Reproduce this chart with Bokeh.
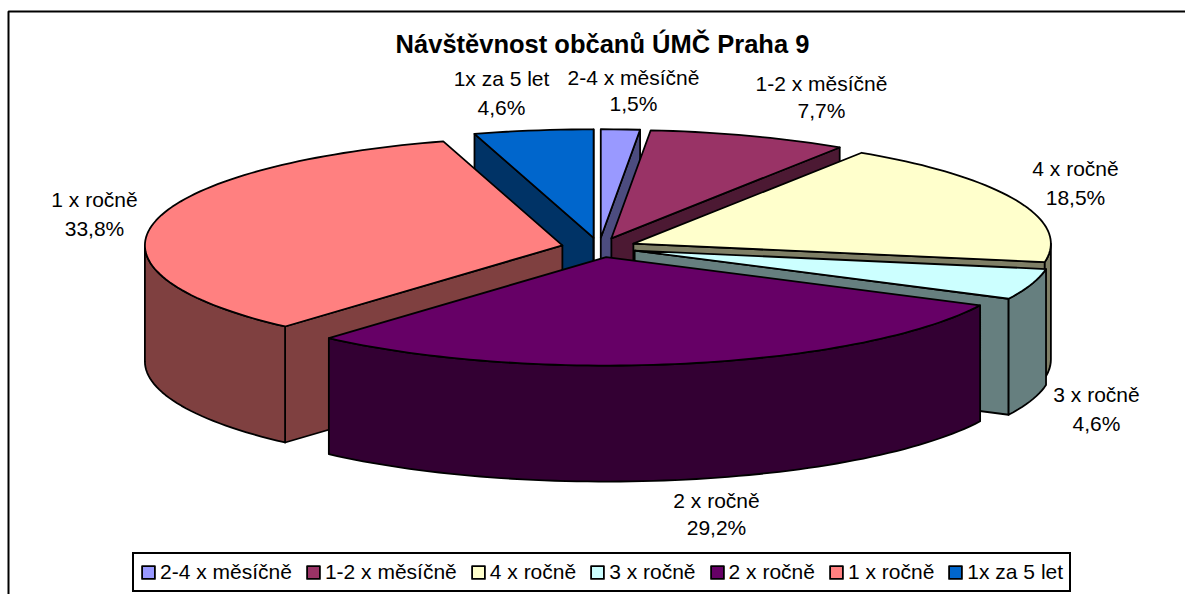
from math import sin, cos, radians
from bokeh.plotting import figure
from bokeh.models import Range1d, Legend, LegendItem, ColumnDataSource
from bokeh.core.properties import value
from bokeh.embed import file_html
from bokeh.resources import INLINE

title_text = "Návštěvnost občanů ÚMČ Praha 9"
categories = ["2-4 x měsíčně", "1-2 x měsíčně", "4 x ročně", "3 x ročně", "2 x ročně", "1 x ročně", "1x za 5 let"]
shares = [1.5, 7.7, 18.5, 4.6, 29.2, 33.8, 4.6]
top_colors = ["#9999FF", "#993366", "#FFFFCC", "#CCFFFF", "#660066", "#FF8080", "#0066CC"]
wall_colors = ["#4C4C7F", "#4C1933", "#7F7F66", "#667F7F", "#330033", "#7F4040", "#003366"]
draw_order = [6, 0, 1, 2, 3, 5, 4]

# label layout (centre x, first-line y, second-line y) in reference pixels
label_x = [633, 821, 1075, 1096, 716, 94, 501]
label_y1 = [77, 83, 168, 394, 500, 199, 78]
label_y2 = [103, 110, 197, 423, 527, 228, 107]

# pie geometry in page pixels
CX, CY, RX, RY, DEPTH, EXPLODE = 598.5, 247.0, 417.5, 108.5, 116.0, 37.5
FONT = value("Liberation Sans")

p = figure(width=1185, height=594, output_backend="svg", toolbar_location=None,
           x_range=Range1d(0, 1185), y_range=Range1d(594, 0),
           min_border=0, outline_line_color=None, background_fill_color="white")
p.xaxis.visible = False
p.yaxis.visible = False
p.grid.visible = False

# chart frame: left and top edges only are inside the picture
p.line(x=[8, 8, 1185], y=[594, 11, 11], line_color="black", line_width=2)

total = sum(shares)
starts, acc = [], 0.0
for s in shares:
    starts.append(acc / total * 360)
    acc += s


def pt(c, a, r=1.0):
    t = radians(a)
    return c[0] + RX * r * sin(t), c[1] - RY * r * cos(t)


def arc(c, a0, a1):
    n = max(2, int(abs(a1 - a0) / 1.5) + 1)
    return [pt(c, a0 + (a1 - a0) * i / (n - 1)) for i in range(n)]


items = {}
for i in draw_order:
    a0 = starts[i]
    a1 = a0 + shares[i] / total * 360
    mid = radians((a0 + a1) / 2)
    c = (CX + EXPLODE * sin(mid), CY - EXPLODE * RY / RX * cos(mid))

    def wall(points):
        xs = [q[0] for q in points] + [q[0] for q in reversed(points)]
        ys = [q[1] for q in points] + [q[1] + DEPTH for q in reversed(points)]
        p.patch(xs, ys, fill_color=wall_colors[i], line_color="black", line_width=1.8, line_join="round")

    # radial walls that face the viewer
    if cos(radians(a0 - 90)) < 0:
        wall([c, pt(c, a0)])
    if cos(radians(a1 + 90)) < 0:
        wall([c, pt(c, a1)])
    # outer wall: the part of the rim on the near side
    lo, hi = max(a0, 90), min(a1, 270)
    if lo < hi:
        wall(arc(c, lo, hi))
    top = [c] + arc(c, a0, a1)
    r = p.patch([q[0] for q in top], [q[1] for q in top], fill_color=top_colors[i],
                line_color="black", line_width=1.8, line_join="round")
    items[i] = r

pct = [f"{s:.1f}%".replace(".", ",") for s in shares]
src = ColumnDataSource(dict(x=label_x + label_x, y=label_y1 + label_y2, t=categories + pct))
p.text("x", "y", text="t", source=src, text_font=FONT, text_font_size="21px", text_color="black",
       text_align="center", text_baseline="middle")
p.text(x=[602], y=[43], text=[title_text], text_font=FONT, text_font_size="25.5px", text_font_style="bold",
       text_color="black", text_align="center", text_baseline="middle")

legend = Legend(items=[LegendItem(label=categories[i], renderers=[items[i]]) for i in range(7)],
                orientation="horizontal", location=(132, 2),
                glyph_width=16, glyph_height=16, label_standoff=4, spacing=13,
                padding=6, margin=0, label_text_font="Liberation Sans", label_text_font_size="21px",
                label_text_color="black", border_line_color="black", border_line_width=2,
                border_line_alpha=1.0, background_fill_color="white", background_fill_alpha=1.0)
p.add_layout(legend, "center")

open("out.html", "w").write(file_html(p, INLINE))
